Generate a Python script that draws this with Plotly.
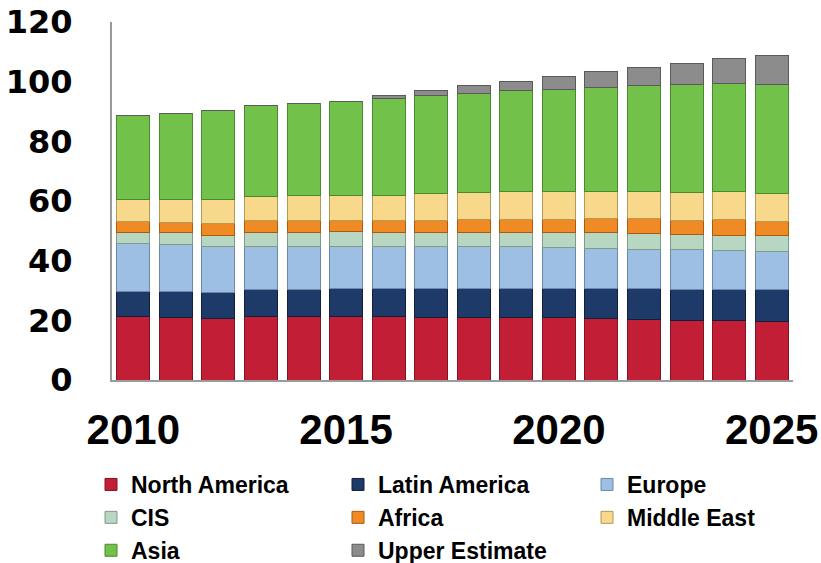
import plotly.graph_objects as go

# Years on the horizontal axis
years = list(range(2010, 2026))

# Stacked regional values per year (bottom to top)
north_america = [21.2, 21.0, 20.7, 21.2, 21.2, 21.2, 21.2, 21.0, 21.0, 21.0, 21.0, 20.7, 20.3, 20.1, 19.9, 19.5]
latin_america = [8.6, 8.6, 8.7, 9.0, 9.2, 9.5, 9.5, 9.7, 9.7, 9.7, 9.7, 10.0, 10.4, 10.4, 10.5, 10.7]
europe = [15.8, 15.7, 15.5, 14.7, 14.5, 14.0, 14.0, 14.0, 14.0, 14.0, 13.8, 13.4, 13.2, 13.3, 12.9, 12.8]
cis = [3.9, 4.1, 3.7, 4.5, 4.5, 5.0, 4.8, 4.8, 4.8, 4.8, 5.0, 5.3, 5.3, 5.1, 5.3, 5.3]
africa = [3.6, 3.5, 3.9, 4.0, 4.0, 3.9, 4.1, 4.1, 4.4, 4.4, 4.4, 4.6, 4.8, 4.7, 5.2, 4.8]
middle_east = [7.5, 7.7, 8.1, 8.1, 8.3, 8.2, 8.4, 9.0, 9.0, 9.2, 9.2, 9.1, 9.1, 9.3, 9.4, 9.5]
asia = [28.2, 28.8, 29.9, 30.6, 31.1, 31.7, 32.2, 32.7, 33.0, 33.8, 34.3, 35.0, 35.6, 36.0, 36.3, 36.5]
upper_estimate = [0, 0, 0, 0, 0, 0, 1.0, 1.6, 2.8, 3.1, 4.4, 5.3, 6.1, 7.2, 8.4, 9.6]

# Axis labels
y_ticks = [0, 20, 40, 60, 80, 100, 120]
x_ticks = [2010, 2015, 2020, 2025]

# name, values, fill, edge, legend column
series = [
    ("North America", north_america, "#C21F37", "#7E1424", "legend"),
    ("Latin America", latin_america, "#1E3A68", "#121F3A", "legend2"),
    ("Europe", europe, "#9EBFE4", "#6B88AA", "legend3"),
    ("CIS", cis, "#B7D7C2", "#7E9C88", "legend"),
    ("Africa", africa, "#F08A24", "#A85C12", "legend2"),
    ("Middle East", middle_east, "#F8D98B", "#B29A58", "legend3"),
    ("Asia", asia, "#72C14A", "#4A8A2C", "legend"),
    ("Upper Estimate", upper_estimate, "#8C8C8C", "#5A5A5A", "legend2"),
]

fig = go.Figure()
for name, values, fill, edge, leg in series:
    fig.add_trace(go.Bar(
        x=years,
        y=values,
        name=name,
        legend=leg,
        marker=dict(color=fill, line=dict(color=edge, width=1)),
    ))

W, H = 821, 563
legend_font = dict(family="Liberation Sans", size=23, color="black", weight="bold")


def column_legend(x_px):
    return dict(
        orientation="v",
        xref="container",
        yref="container",
        x=x_px / W,
        xanchor="left",
        y=1 - 463 / H,
        yanchor="top",
        traceorder="normal",
        font=legend_font,
        bgcolor="rgba(0,0,0,0)",
        tracegroupgap=0,
    )


fig.update_layout(
    width=W,
    height=H,
    barmode="stack",
    bargap=0.225,
    plot_bgcolor="white",
    paper_bgcolor="white",
    margin=dict(l=112, r=28, t=22, b=183, autoexpand=False),
    xaxis=dict(
        range=[2009.5, 2025.5],
        tickvals=x_ticks,
        ticktext=[str(v) for v in x_ticks],
        showgrid=False,
        zeroline=False,
        showline=True,
        linecolor="#9A9A9A",
        linewidth=2,
        ticks="",
        automargin=False,
        ticklabelstandoff=12,
        tickfont=dict(family="Liberation Sans", size=42, color="black", weight="bold"),
    ),
    yaxis=dict(
        range=[0, 120],
        tickvals=y_ticks,
        showgrid=False,
        zeroline=False,
        showline=True,
        linecolor="#9A9A9A",
        linewidth=2,
        ticks="",
        automargin=False,
        ticklabelstandoff=31,
        tickfont=dict(family="DejaVu Sans", size=32, color="black", weight="bold"),
    ),
    legend=column_legend(91),
    legend2=column_legend(338),
    legend3=column_legend(587),
    showlegend=True,
)

fig.write_html("out.html")
